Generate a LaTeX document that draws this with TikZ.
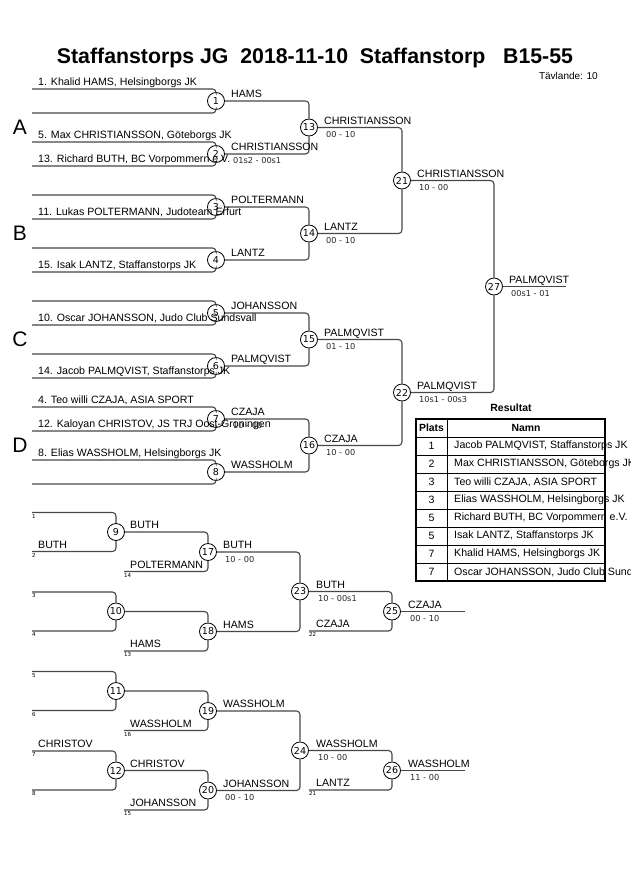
\documentclass[tikz,border=0pt]{standalone}
\usepackage{fontspec}
\setmainfont{Liberation Sans}
\newfontfamily\dejavu{DejaVu Sans}
\begin{document}
\begin{tikzpicture}[x=1pt,y=-1pt,
  ln/.style={draw=black!72, line width=1.1pt, rounded corners=3.5pt},
  mc/.style={circle, draw=black, line width=0.8pt, fill=white, minimum size=17pt, inner sep=0pt, font=\dejavu\fontsize{9.5}{10}\selectfont},
  nm/.style={anchor=base west, inner sep=0pt, font=\fontsize{10.6}{12}\selectfont},
  sc/.style={anchor=base west, inner sep=0pt, font=\dejavu\fontsize{8.2}{9}\selectfont, text=black!85},
  tn/.style={anchor=north west, inner sep=0pt, yshift=-1.5pt, font=\dejavu\fontsize{5.5}{6}\selectfont},
  grp/.style={font=\fontsize{21}{24}\selectfont, inner sep=0pt},
  cell/.style={inner sep=0pt, font=\fontsize{10.6}{12}\selectfont},
  hcell/.style={inner sep=0pt, font=\bfseries\fontsize{10.4}{12}\selectfont},
  tline/.style={draw=black, line width=0.8pt}]
\useasboundingbox (0,0) rectangle (630,891);
\clip (0,0) rectangle (630,891);

% ---------- title ----------
\node[font=\bfseries\fontsize{21.3}{25}\selectfont, inner sep=0pt] (title) at (315,58) {Staffanstorps JG\ \ 2018-11-10\ \ Staffanstorp\ \ \ B15-55};
\node[anchor=east, inner sep=0pt, font=\fontsize{10}{12}\selectfont] (tav) at (598,76) {Tävlande: 10};

% ---------- main bracket circles ----------
\node[mc] (m1) at (216,101) {1};
\node[mc] (m2) at (216,154) {2};
\node[mc] (m3) at (216,207) {3};
\node[mc] (m4) at (216,260) {4};
\node[mc] (m5) at (216,313) {5};
\node[mc] (m6) at (216,366) {6};
\node[mc] (m7) at (216,419) {7};
\node[mc] (m8) at (216,472) {8};
\node[mc] (m13) at (309,127.5) {13};
\node[mc] (m14) at (309,233.5) {14};
\node[mc] (m15) at (309,339.5) {15};
\node[mc] (m16) at (309,445.5) {16};
\node[mc] (m21) at (402,180.5) {21};
\node[mc] (m22) at (402,392.5) {22};
\node[mc] (m27) at (494,286.5) {27};

% competitor line ends
\coordinate (a1t) at (32,89);  \coordinate (a1b) at (32,113);
\coordinate (a2t) at (32,142); \coordinate (a2b) at (32,166);
\coordinate (a3t) at (32,195); \coordinate (a3b) at (32,219);
\coordinate (a4t) at (32,248); \coordinate (a4b) at (32,272);
\coordinate (a5t) at (32,301); \coordinate (a5b) at (32,325);
\coordinate (a6t) at (32,354); \coordinate (a6b) at (32,378);
\coordinate (a7t) at (32,407); \coordinate (a7b) at (32,431);
\coordinate (a8t) at (32,460); \coordinate (a8b) at (32,484);
\coordinate (e27) at (566,286.5);

\foreach \k in {1,...,8}{
  \draw[ln] (a\k t) -| (m\k);
  \draw[ln] (a\k b) -| (m\k);
}
\draw[ln] (m1) -| (m13); \draw[ln] (m2) -| (m13);
\draw[ln] (m3) -| (m14); \draw[ln] (m4) -| (m14);
\draw[ln] (m5) -| (m15); \draw[ln] (m6) -| (m15);
\draw[ln] (m7) -| (m16); \draw[ln] (m8) -| (m16);
\draw[ln] (m13) -| (m21); \draw[ln] (m14) -| (m21);
\draw[ln] (m15) -| (m22); \draw[ln] (m16) -| (m22);
\draw[ln] (m21) -| (m27); \draw[ln] (m22) -| (m27);
\draw[ln] (m27) -- (e27);

% group letters
\node[grp] (gA) at (20,127) {A};
\node[grp] (gB) at (20,233.5) {B};
\node[grp] (gC) at (20,339.5) {C};
\node[grp] (gD) at (20,445.5) {D};

% competitor names
\node[nm] (p1) at (38,85) {1. Khalid HAMS, Helsingborgs JK};
\node[nm] (p5) at (38,138) {5. Max CHRISTIANSSON, Göteborgs JK};
\node[nm] (p13) at (38,162) {13. Richard BUTH, BC Vorpommern e.V.};
\node[nm] (p11) at (38,215) {11. Lukas POLTERMANN, Judoteam Erfurt};
\node[nm] (p15) at (38,268) {15. Isak LANTZ, Staffanstorps JK};
\node[nm] (p10) at (38,321) {10. Oscar JOHANSSON, Judo Club Sundsvall};
\node[nm] (p14) at (38,374) {14. Jacob PALMQVIST, Staffanstorps JK};
\node[nm] (p4) at (38,403) {4. Teo willi CZAJA, ASIA SPORT};
\node[nm] (p12) at (38,427) {12. Kaloyan CHRISTOV, JS TRJ Oost-Groningen};
\node[nm] (p8) at (38,456) {8. Elias WASSHOLM, Helsingborgs JK};

% winners round 1
\node[nm] (w1) at (231,97.5) {HAMS};
\node[nm] (w2) at (231,150.5) {CHRISTIANSSON};
\node[sc] (s2) at (233,163.5) {01s2 - 00s1};
\node[nm] (w3) at (231,203.5) {POLTERMANN};
\node[nm] (w4) at (231,256.5) {LANTZ};
\node[nm] (w5) at (231,309.5) {JOHANSSON};
\node[nm] (w6) at (231,362.5) {PALMQVIST};
\node[nm] (w7) at (231,415.5) {CZAJA};
\node[sc] (s7) at (233,428.5) {10 - 00};
\node[nm] (w8) at (231,468.5) {WASSHOLM};
% round 2
\node[nm] (w13) at (324,124) {CHRISTIANSSON};
\node[sc] (s13) at (326,137.5) {00 - 10};
\node[nm] (w14) at (324,230) {LANTZ};
\node[sc] (s14) at (326,243.5) {00 - 10};
\node[nm] (w15) at (324,336) {PALMQVIST};
\node[sc] (s15) at (326,349.5) {01 - 10};
\node[nm] (w16) at (324,442) {CZAJA};
\node[sc] (s16) at (326,455.5) {10 - 00};
% round 3
\node[nm] (w21) at (417,177) {CHRISTIANSSON};
\node[sc] (s21) at (419,190.5) {10 - 00};
\node[nm] (w22) at (417,389) {PALMQVIST};
\node[sc] (s22) at (419,402.5) {10s1 - 00s3};
% final
\node[nm] (w27) at (509,283) {PALMQVIST};
\node[sc] (s27) at (511,296.5) {00s1 - 01};

% ---------- repechage section 1 ----------
\node[mc] (m9) at (116,532) {9};
\node[mc] (m10) at (116,611.5) {10};
\node[mc] (m17) at (208,552) {17};
\node[mc] (m18) at (208,631.5) {18};
\node[mc] (m23) at (300,591.5) {23};
\node[mc] (m25) at (392,611.5) {25};
\coordinate (r1) at (32,512.5);
\coordinate (r2) at (32,551.5);
\coordinate (r3) at (32,592);
\coordinate (r4) at (32,631);
\coordinate (r14) at (124,571.5);
\coordinate (r13) at (124,651);
\coordinate (r22) at (309,631);
\coordinate (e25) at (465,611.5);
\draw[ln] (r1) -| (m9); \draw[ln] (r2) -| (m9);
\draw[ln] (r3) -| (m10); \draw[ln] (r4) -| (m10);
\draw[ln] (m9) -| (m17); \draw[ln] (r14) -| (m17);
\draw[ln] (m10) -| (m18); \draw[ln] (r13) -| (m18);
\draw[ln] (m17) -| (m23); \draw[ln] (m18) -| (m23);
\draw[ln] (m23) -| (m25); \draw[ln] (r22) -| (m25);
\draw[ln] (m25) -- (e25);
\node[tn] (t1) at (r1) {1};
\node[tn] (t2) at (r2) {2};
\node[tn] (t3) at (r3) {3};
\node[tn] (t4) at (r4) {4};
\node[tn] (t14) at (r14) {14};
\node[tn] (t13) at (r13) {13};
\node[tn] (t22) at (r22) {22};
\node[nm] (q2) at (38,548) {BUTH};
\node[nm] (q9) at (130,528.5) {BUTH};
\node[nm] (q14) at (130,568) {POLTERMANN};
\node[nm] (q17) at (223,548.5) {BUTH};
\node[sc] (u17) at (225,562) {10 - 00};
\node[nm] (q13) at (130,647.5) {HAMS};
\node[nm] (q18) at (223,628) {HAMS};
\node[nm] (q23) at (316,588) {BUTH};
\node[sc] (u23) at (318,601.5) {10 - 00s1};
\node[nm] (q22) at (316,627.5) {CZAJA};
\node[nm] (q25) at (408,608) {CZAJA};
\node[sc] (u25) at (410,621.5) {00 - 10};

% ---------- repechage section 2 ----------
\node[mc] (m11) at (116,691) {11};
\node[mc] (m12) at (116,770.5) {12};
\node[mc] (m19) at (208,711) {19};
\node[mc] (m20) at (208,790.5) {20};
\node[mc] (m24) at (300,750.5) {24};
\node[mc] (m26) at (392,770.5) {26};
\coordinate (r5) at (32,671.5);
\coordinate (r6) at (32,710.5);
\coordinate (r7) at (32,751);
\coordinate (r8) at (32,790);
\coordinate (r16) at (124,730.5);
\coordinate (r15) at (124,810);
\coordinate (r21) at (309,790);
\coordinate (e26) at (465,770.5);
\draw[ln] (r5) -| (m11); \draw[ln] (r6) -| (m11);
\draw[ln] (r7) -| (m12); \draw[ln] (r8) -| (m12);
\draw[ln] (m11) -| (m19); \draw[ln] (r16) -| (m19);
\draw[ln] (m12) -| (m20); \draw[ln] (r15) -| (m20);
\draw[ln] (m19) -| (m24); \draw[ln] (m20) -| (m24);
\draw[ln] (m24) -| (m26); \draw[ln] (r21) -| (m26);
\draw[ln] (m26) -- (e26);
\node[tn] (t5) at (r5) {5};
\node[tn] (t6) at (r6) {6};
\node[tn] (t7) at (r7) {7};
\node[tn] (t8) at (r8) {8};
\node[tn] (t16) at (r16) {16};
\node[tn] (t15) at (r15) {15};
\node[tn] (t21) at (r21) {21};
\node[nm] (q16) at (130,727) {WASSHOLM};
\node[nm] (q19) at (223,707.5) {WASSHOLM};
\node[nm] (q7) at (38,747.5) {CHRISTOV};
\node[nm] (q12) at (130,767) {CHRISTOV};
\node[nm] (q15) at (130,806.5) {JOHANSSON};
\node[nm] (q20) at (223,787) {JOHANSSON};
\node[sc] (u20) at (225,800.5) {00 - 10};
\node[nm] (q24) at (316,747) {WASSHOLM};
\node[sc] (u24) at (318,760.5) {10 - 00};
\node[nm] (q21) at (316,786.5) {LANTZ};
\node[nm] (q26) at (408,767) {WASSHOLM};
\node[sc] (u26) at (410,780.5) {11 - 00};

% ---------- results table ----------
\node[hcell] (res) at (511,407.5) {Resultat};
\node[hcell] (hp) at (431.5,428) {Plats};
\node[hcell] (hn) at (526,428) {Namn};
\foreach \i/\p/\n in {1/1/{Jacob PALMQVIST, Staffanstorps JK},
                      2/2/{Max CHRISTIANSSON, Göteborgs JK},
                      3/3/{Teo willi CZAJA, ASIA SPORT},
                      4/3/{Elias WASSHOLM, Helsingborgs JK},
                      5/5/{Richard BUTH, BC Vorpommern e.V.},
                      6/5/{Isak LANTZ, Staffanstorps JK},
                      7/7/{Khalid HAMS, Helsingborgs JK},
                      8/7/{Oscar JOHANSSON, Judo Club Sundsvall}}{
  \node[cell] (rp\i) at (431.5,428+18*\i) {\p};
  \node[cell, anchor=west] (rn\i) at (454,428+18*\i) {\n};
}
\foreach \i in {1,...,8}{
  \draw[tline] (416,419+18*\i) -- (605,419+18*\i);
}
\draw[tline] (447,419) -- (447,581);
\draw[draw=black, line width=1.8pt] (416,419) rectangle (605,581);
\end{tikzpicture}
\end{document}
